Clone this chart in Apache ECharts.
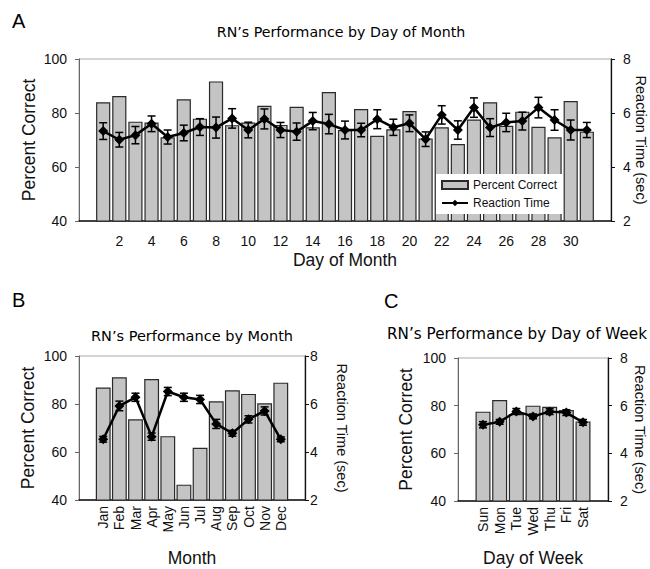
<!DOCTYPE html>
<html><head><meta charset="utf-8">
<script src="https://cdn.jsdelivr.net/npm/echarts@6/dist/echarts.min.js"></script>
<style>html,body{margin:0;padding:0;background:#fff}#c{width:650px;height:569px}</style>
</head><body><div id="c"></div>
<script>
// ---- Panel A: by day of month ----
const days = [1,2,3,4,5,6,7,8,9,10,11,12,13,14,15,16,17,18,19,20,21,22,23,24,25,26,27,28,29,30,31];
const pctDay = [84.0,86.3,76.8,76.5,71.0,85.1,77.9,91.7,75.5,76.5,82.7,75.6,82.3,74.7,87.8,73.7,81.5,71.6,74.0,80.7,70.6,74.7,68.5,77.6,84.0,75.3,80.5,74.9,71.0,84.4,73.1];
const rtDay = [5.33,5.01,5.18,5.60,5.11,5.26,5.48,5.46,5.80,5.37,5.78,5.37,5.31,5.70,5.59,5.37,5.37,5.77,5.47,5.62,5.03,5.93,5.37,6.20,5.46,5.65,5.70,6.20,5.74,5.37,5.37];
const rtDayErr = [0.31,0.27,0.32,0.29,0.26,0.29,0.31,0.39,0.36,0.29,0.37,0.28,0.32,0.32,0.36,0.33,0.25,0.35,0.30,0.31,0.27,0.34,0.34,0.36,0.33,0.34,0.33,0.38,0.38,0.37,0.28];
// ---- Panel B: by month ----
const months = ['Jan','Feb','Mar','Apr','May','Jun','Jul','Aug','Sep','Oct','Nov','Dec'];
const pctMonth = [86.9,91.1,73.6,90.4,66.6,46.4,61.8,81.1,85.7,84.2,80.3,88.9];
const rtMonth = [4.53,5.92,6.28,4.64,6.52,6.28,6.19,5.17,4.78,5.36,5.71,4.53];
const rtMonthErr = [0.12,0.20,0.17,0.15,0.17,0.17,0.17,0.19,0.12,0.15,0.17,0.10];
// ---- Panel C: by day of week ----
const weekdays = ['Sun','Mon','Tue','Wed','Thu','Fri','Sat'];
const pctWeek = [77.5,82.4,76.5,80.0,79.5,78.2,73.4];
const rtWeek = [5.20,5.32,5.76,5.55,5.75,5.71,5.30];
const rtWeekErr = [0.13,0.10,0.12,0.10,0.12,0.12,0.12];
// ---- axis ranges / tick labels ----
const pctTicks = [40,60,80,100];
const rtTicks = [2,4,6,8];

const FONT = 'Liberation Sans, Arial, Helvetica, sans-serif';
const TFONT = 'DejaVu Sans, Liberation Sans, sans-serif';
const BAR_FILL = '#c4c4c4';

const padCats = arr => [' '].concat(arr.map(String), ['  ']);
const padVals = arr => [null].concat(arr, [null]);
const errData = (vals, errs) => vals.map((v, i) => [i + 1, v, errs[i]]);

function errRender(params, api) {
  const x = api.value(0), y = api.value(1), e = api.value(2);
  const t = api.coord([x, y + e]), b = api.coord([x, y - e]);
  const hw = 4;
  const st = {stroke: '#000', lineWidth: 1.5};
  return {type: 'group', children: [
    {type: 'line', shape: {x1: t[0], y1: t[1], x2: b[0], y2: b[1]}, style: st},
    {type: 'line', shape: {x1: t[0]-hw, y1: t[1], x2: t[0]+hw, y2: t[1]}, style: st},
    {type: 'line', shape: {x1: b[0]-hw, y1: b[1], x2: b[0]+hw, y2: b[1]}, style: st}
  ]};
}

const grids = [
  {left: 79, top: 59, width: 532, height: 162},
  {left: 79, top: 356, width: 226, height: 144},
  {left: 458, top: 358, width: 150, height: 143}
].map(g => Object.assign({show: true, borderColor: '#aaa', borderWidth: 1, backgroundColor: 'transparent', outerBoundsMode: 'none', containLabel: false}, g));

function xAx(gi, cats, name, nameGap, rotated, interval) {
  return {
    type: 'category', gridIndex: gi, data: cats,
    axisLine: {show: true, lineStyle: {color: '#111', width: 1.5}},
    axisTick: {show: false},
    axisLabel: rotated ? {rotate: 90, fontSize: 14, fontFamily: FONT, color: '#111', margin: 6, interval: 0}
                       : {fontSize: 14, fontFamily: FONT, color: '#111', margin: 13, interval: interval},
    name: name, nameLocation: 'middle', nameGap: nameGap, nameMoveOverlap: false,
    nameTextStyle: {fontSize: 17.5, fontFamily: FONT, color: '#111'}
  };
}
function yLeft(gi, nameGap) {
  return {
    type: 'value', gridIndex: gi, position: 'left',
    min: pctTicks[0], max: pctTicks[pctTicks.length-1], interval: pctTicks[1]-pctTicks[0],
    axisLine: {show: true, lineStyle: {color: '#666', width: 1}},
    axisTick: {show: true, length: 4, lineStyle: {color: '#666'}},
    splitLine: {show: false},
    axisLabel: {fontSize: 14, fontFamily: FONT, color: '#111', margin: 12},
    name: 'Percent Correct', nameLocation: 'middle', nameRotate: 90, nameGap: nameGap, nameMoveOverlap: false,
    nameTextStyle: {fontSize: 17.5, fontFamily: FONT, color: '#111'}
  };
}
function yRight(gi, nameGap, margin) {
  return {
    type: 'value', gridIndex: gi, position: 'right',
    min: rtTicks[0], max: rtTicks[rtTicks.length-1], interval: rtTicks[1]-rtTicks[0],
    axisLine: {show: true, lineStyle: {color: '#111', width: 1.3}},
    axisTick: {show: true, length: 4, lineStyle: {color: '#111'}},
    splitLine: {show: false},
    axisLabel: {fontSize: 14, fontFamily: FONT, color: '#111', margin: margin},
    name: 'Reaction Time (sec)', nameLocation: 'middle', nameRotate: -90, nameGap: nameGap, nameMoveOverlap: false,
    nameTextStyle: {fontSize: 14.5, lineHeight: 14, fontFamily: FONT, color: '#111'}
  };
}
const barStyle = {color: BAR_FILL, borderColor: '#2a2a2a', borderWidth: 1.2};
function barS(name, xi, yi, vals, gap) {
  return {type: 'bar', name: name, xAxisIndex: xi, yAxisIndex: yi, data: padVals(vals),
    barCategoryGap: gap, itemStyle: barStyle, z: 2};
}
function lineS(name, xi, yi, vals) {
  return {type: 'line', name: name, xAxisIndex: xi, yAxisIndex: yi, data: padVals(vals),
    symbol: 'diamond', symbolSize: 10, showSymbol: true,
    lineStyle: {color: '#000', width: 2.5}, itemStyle: {color: '#000'}, z: 4};
}
function errS(xi, yi, vals, errs) {
  return {type: 'custom', xAxisIndex: xi, yAxisIndex: yi, data: errData(vals, errs),
    encode: {x: 0, y: 1}, renderItem: errRender, z: 3, silent: true};
}

const txt = (text, x, y, size, align, family) => ({type: 'text', x: x, y: y,
  style: {text: text, fontSize: size, fontFamily: family || FONT, fill: '#000', align: align || 'left', verticalAlign: 'top'}});

const option = {
  animation: false,
  backgroundColor: '#fff',
  grid: grids,
  xAxis: [
    xAx(0, padCats(days), 'Day of Month', 30, false, (i) => i > 0 && i < days.length + 1 && i % 2 === 0),
    xAx(1, padCats(months), 'Month', 49, true),
    xAx(2, padCats(weekdays), 'Day of Week', 48, true)
  ],
  yAxis: [
    yLeft(0, 41), yRight(0, 23, 12),
    yLeft(1, 42), yRight(1, 30, 5),
    yLeft(2, 43), yRight(2, 25, 12)
  ],
  legend: {
    left: 436, top: 174, orient: 'vertical', backgroundColor: '#fff',
    padding: [5, 5, 5, 5], itemGap: 6, itemWidth: 26, itemHeight: 8,
    textStyle: {fontSize: 12, fontFamily: FONT, color: '#111'},
    data: [{name: 'Percent Correct', icon: 'rect'}, {name: 'Reaction Time'}],
    selectedMode: false, z: 10
  },
  graphic: [
    txt('A', 12, 11, 20),
    txt('B', 12, 290, 20),
    txt('C', 384, 291, 20),
    txt('RN\u2019s Performance by Day of Month', 341, 25, 14.2, 'center', TFONT),
    txt('RN\u2019s Performance by Month', 192, 328, 14.5, 'center', TFONT),
    txt('RN\u2019s Performance by Day of Week', 517, 326, 15.2, 'center', TFONT)
  ],
  series: [
    barS('Percent Correct', 0, 0, pctDay, '12%'),
    lineS('Reaction Time', 0, 1, rtDay),
    errS(0, 1, rtDay, rtDayErr),
    barS('Percent Correct by Month', 1, 2, pctMonth, '8%'),
    lineS('Reaction Time by Month', 1, 3, rtMonth),
    errS(1, 3, rtMonth, rtMonthErr),
    barS('Percent Correct by Weekday', 2, 4, pctWeek, '10%'),
    lineS('Reaction Time by Weekday', 2, 5, rtWeek),
    errS(2, 5, rtWeek, rtWeekErr)
  ]
};
const chart = echarts.init(document.getElementById('c'), null, {renderer: 'svg'});
chart.setOption(option);
</script></body></html>
